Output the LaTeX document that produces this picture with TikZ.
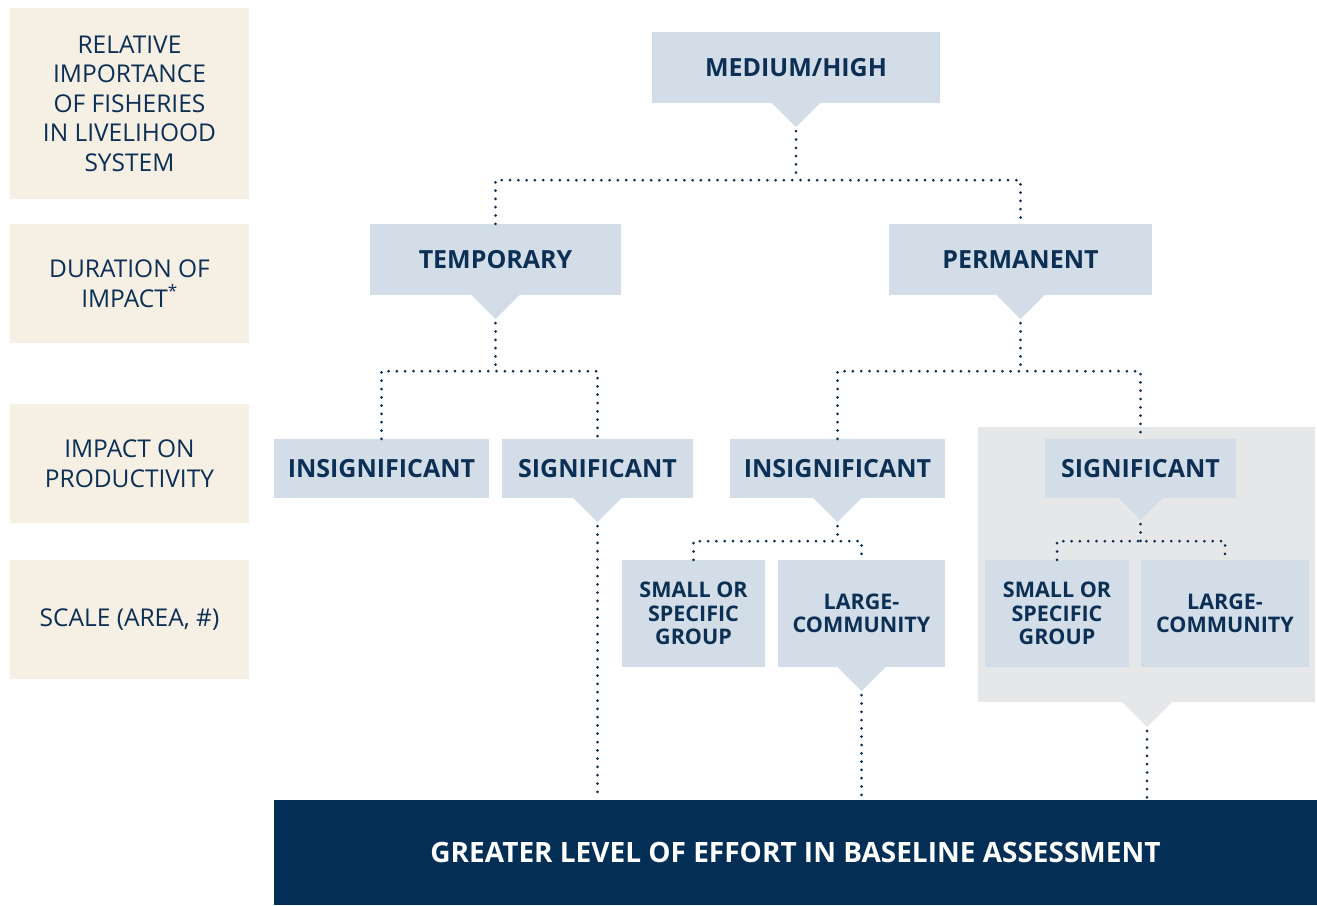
\documentclass[tikz,border=0pt]{standalone}
\usepackage{fontspec}
\setmainfont{Open Sans}
\usetikzlibrary{calc}
\definecolor{navy}{HTML}{0B2F55}
\definecolor{boxfill}{HTML}{D3DDE7}
\definecolor{beige}{HTML}{F5EFE4}
\definecolor{greybg}{HTML}{E6E7E9}
\definecolor{deepnavy}{HTML}{032E55}
\tikzset{
  leftlab/.style={fill=beige, text=navy, inner sep=0pt, minimum width=239pt, align=center,
    font=\fontsize{24.5}{29.5}\selectfont},
  mainbox/.style={fill=boxfill, text=navy, inner sep=0pt, align=center,
    font=\bfseries\fontsize{25}{30}\selectfont},
  subbox/.style={fill=boxfill, text=navy, inner sep=0pt, align=center,
    minimum height=107pt, font=\bfseries\fontsize{21.5}{23.5}\selectfont},
  dots/.style={draw=navy, line width=3pt, line cap=round, dash pattern=on 0pt off 8.3pt},
}
\newcommand{\tipunder}[4]{% node, tipname, halfwidth, colour
  \fill[#4] ($(#1.south)+(-#3,0)$) -- ($(#1.south)+(#3,0)$) -- ($(#1.south)+(0,#3)$) -- cycle;
  \coordinate (#2) at ($(#1.south)+(0,#3)$);
}
\begin{document}
\begin{tikzpicture}[x=1pt,y=-1pt]
\useasboundingbox (0,0) rectangle (1317,905);
% left labels
\node[leftlab, minimum height=191pt] (l1) at (129.5,103.5) {RELATIVE\\IMPORTANCE\\OF FISHERIES\\IN LIVELIHOOD\\SYSTEM};
\node[leftlab, minimum height=119pt] (l2) at (129.5,283.5) {DURATION OF\\IMPACT\textsuperscript{*}};
\node[leftlab, minimum height=119pt] (l3) at (129.5,463.5) {IMPACT ON\\PRODUCTIVITY};
\node[leftlab, minimum height=119pt] (l4) at (129.5,619.5) {SCALE (AREA, \#)};
% grey background
\fill[greybg] (978,427) rectangle (1315,702);
\fill[greybg] (1122,702) -- (1172,702) -- (1147,727) -- cycle;
\coordinate (greytip) at (1147,727);
% main boxes
\node[mainbox, minimum width=288pt, minimum height=71pt] (med) at (796,67.5) {MEDIUM/HIGH};
\node[mainbox, minimum width=251pt, minimum height=71pt] (temp) at (495.5,259.5) {TEMPORARY};
\node[mainbox, minimum width=263pt, minimum height=71pt] (perm) at (1020.5,259.5) {PERMANENT};
\node[mainbox, minimum width=215pt, minimum height=59pt] (ins1) at (381.5,468.5) {INSIGNIFICANT};
\node[mainbox, minimum width=191pt, minimum height=59pt] (sig1) at (597.5,468.5) {SIGNIFICANT};
\node[mainbox, minimum width=215pt, minimum height=59pt] (ins2) at (837.5,468.5) {INSIGNIFICANT};
\node[mainbox, minimum width=191pt, minimum height=59pt] (sig2) at (1140.5,468.5) {SIGNIFICANT};
\node[subbox, minimum width=143pt] (sm1) at (693.5,613.5) {SMALL OR\\SPECIFIC\\GROUP};
\node[subbox, minimum width=167pt] (lg1) at (861.5,613.5) {LARGE-\\COMMUNITY};
\node[subbox, minimum width=144pt] (sm2) at (1057,613.5) {SMALL OR\\SPECIFIC\\GROUP};
\node[subbox, minimum width=168pt] (lg2) at (1225,613.5) {LARGE-\\COMMUNITY};
\node[fill=deepnavy, text=white, inner sep=0pt, minimum width=1043pt, minimum height=105pt,
  font=\bfseries\fontsize{28}{32}\selectfont] (bot) at (795.5,852.5) {GREATER LEVEL OF EFFORT IN BASELINE ASSESSMENT};
% tips
\tipunder{med}{medtip}{24}{boxfill}
\tipunder{temp}{temptip}{24}{boxfill}
\tipunder{perm}{permtip}{24}{boxfill}
\tipunder{sig1}{sig1tip}{24}{boxfill}
\tipunder{ins2}{ins2tip}{24}{boxfill}
\tipunder{sig2}{sig2tip}{22}{boxfill}
\tipunder{lg1}{lg1tip}{24}{boxfill}
% junctions
\coordinate (j1) at ($(medtip)+(0,53)$);
\coordinate (j2) at ($(temptip)+(0,52)$);
\coordinate (j3) at ($(permtip)+(0,52)$);
\coordinate (j4) at ($(ins2tip)+(0,19)$);
\coordinate (j5) at ($(sig2tip)+(0,21)$);
% connectors
\draw[dots] ($(medtip)+(0,4)$) -- (j1);
\draw[dots] (temp.north) |- (j1) -| (perm.north);
\draw[dots] ($(temptip)+(0,4)$) -- (j2);
\draw[dots] (ins1.north) |- (j2) -| (sig1.north);
\draw[dots] ($(permtip)+(0,4)$) -- (j3);
\draw[dots] (ins2.north) |- (j3) -| (sig2.north);
\draw[dots] ($(ins2tip)+(0,4)$) -- (j4);
\draw[dots] (sm1.north) |- (j4) -| (lg1.north);
\draw[dots] ($(sig2tip)+(0,4)$) -- (j5);
\draw[dots] (sm2.north) |- (j5) -| (lg2.north);
\draw[dots] ($(sig1tip)+(0,4)$) -- (sig1tip |- bot.north);
\draw[dots] ($(lg1tip)+(0,4)$) -- (lg1tip |- bot.north);
\draw[dots] ($(greytip)+(0,4)$) -- (greytip |- bot.north);
\end{tikzpicture}
\end{document}
